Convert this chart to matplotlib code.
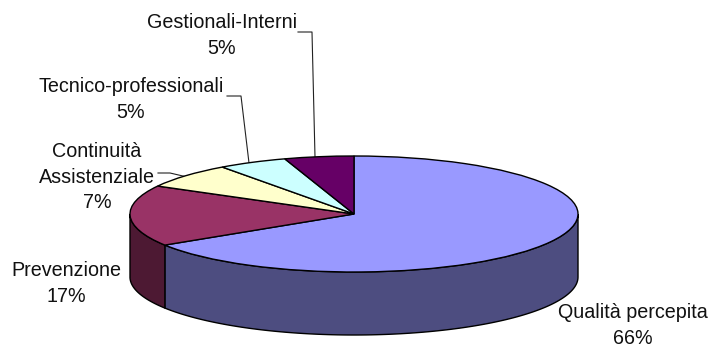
import matplotlib

matplotlib.use("Agg")
import matplotlib.pyplot as plt
import numpy as np

plt.rcParams["font.family"] = ["Liberation Sans", "DejaVu Sans"]

# Data
names = ["Qualità percepita", "Prevenzione", "Continuità\nAssistenziale",
         "Tecnico-professionali", "Gestionali-Interni"]
values = [66, 17, 7, 5, 5]
top_colors = ["#9999FF", "#993366", "#FFFFCC", "#CCFFFF", "#660066"]
side_colors = ["#4D4D80", "#4D1933", "#808066", "#668080", "#330033"]

# Layout in pixels
W, H = 708, 345
cx, cy, rx, ry = 354, 214, 224, 58
depth = 63
line_step = 25.7
label_pos = [(633, 318), (66, 276), (97, 157), (131, 92), (222, 28)]
leaders = [None, None,
           [(158, 173), (170, 173), (185, 176.5)],
           [(227, 96), (241, 96), (249, 163)],
           [(298, 32), (312, 32), (315, 157)]]

fig = plt.figure(figsize=(W / 100, H / 100), dpi=100)
ax = fig.add_axes([0, 0, 1, 1])
ax.set_xlim(0, W)
ax.set_ylim(H, 0)
ax.axis("off")

# Side wall, only the front half of the ellipse shows
edges = np.cumsum([0] + values) / sum(values) * 2 * np.pi
for i in range(len(values)):
    t0 = max(edges[i], np.pi / 2)
    t1 = min(edges[i + 1], 3 * np.pi / 2)
    if t1 <= t0:
        continue
    t = np.linspace(t0, t1, 120)
    x = cx + rx * np.sin(t)
    y = cy - ry * np.cos(t)
    ax.fill(np.r_[x, x[::-1]], np.r_[y, y[::-1] + depth],
            facecolor=side_colors[i], edgecolor="black", linewidth=1.0)

# Labels and leader lines, one text per line to hold the spacing
for name, val, pos, lead in zip(names, values, label_pos, leaders):
    rows = name.split("\n") + [f"{val}%"]
    for n, row in enumerate(rows):
        ax.text(pos[0], pos[1] + n * line_step, row, ha="center", va="baseline",
                fontsize=14.2, color="#111111")
    if lead:
        ax.plot(*zip(*lead), color="#222222", linewidth=0.8)

# Top face, a pie squashed by its axes
pie_ax = fig.add_axes([(cx - rx) / W, 1 - (cy + ry) / H, 2 * rx / W, 2 * ry / H])
pie_ax.pie(values, colors=top_colors, startangle=90, counterclock=False,
           radius=1, wedgeprops={"edgecolor": "black", "linewidth": 1.0, "clip_on": False})
pie_ax.set_aspect("auto")
pie_ax.set_xlim(-1, 1)
pie_ax.set_ylim(-1, 1)
pie_ax.patch.set_visible(False)

fig.savefig("out.png", dpi=100)
